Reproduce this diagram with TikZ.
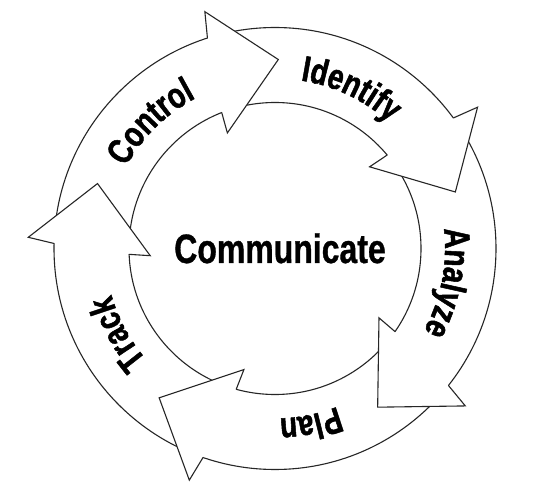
\documentclass[tikz,border=0pt]{standalone}
\usepackage{fontspec}
\newfontfamily\condbold{Liberation Sans Bold}[FakeStretch=0.78, FakeBold=0.8]
\newfontfamily\ringbold{Liberation Sans Bold}[FakeStretch=0.78, FakeBold=1.4]
\tikzset{
  ring/.style={draw=black!85, line width=1.1pt, line cap=round, line join=miter},
  headfill/.style={fill=white},
  letterbox/.style={anchor=base, inner sep=0pt, font=\ringfont}
}
\newcommand\ringfont{\ringbold\fontsize{36pt}{36pt}\selectfont}
\newlength\wordlen
\newlength\charlen
\newsavebox\measbox
% arrow head with tip at angle #1
\newcommand\headat[1]{%
  \fill[headfill] ({#1+18.8}:221pt) -- ({#1+17.5}:247pt) -- (#1:189pt) -- ({#1+23.4}:125pt) -- ({#1+22.4}:146pt) -- cycle;
  \draw[ring] ({#1+18.8}:221pt) -- ({#1+17.5}:247pt) -- (#1:189pt) -- ({#1+23.4}:125pt) -- ({#1+22.4}:146pt);
}
% measure a word before the picture: #1 centre angle, #2 word, #3 letters
\newcommand\prepword[3]{%
  \sbox\measbox{\ringfont #2}\global\wordlen=\wd\measbox
  \pgfmathsetmacro\curang{#1+0.5*\wordlen/170*57.29578}%
  \global\let\curang\curang
  \gdef\acc{}%
  \foreach \ch in {#3} {%
    \sbox\measbox{\ringfont\ch}\global\charlen=\wd\measbox
    \pgfmathsetmacro\midang{\curang-0.5*\charlen/170*57.29578}%
    \xdef\acc{\acc\ifx\acc\empty\else,\fi\midang/\ch}%
    \pgfmathsetmacro\nextang{\curang-\charlen/170*57.29578}%
    \global\let\curang\nextang
  }%
  \expandafter\global\expandafter\let\csname ang#2\endcsname\acc
}
\newcommand\ringwordaux[2]{%
  \foreach \a/\ch [count=\i] in #1 {%
    \node[letterbox, rotate=\a-90] (#2-\i) at (\a:170pt) {\ch};
  }%
}
\newcommand\ringword[1]{\expandafter\ringwordaux\csname ang#1\endcsname{#1}}
\begin{document}
\prepword{134.5}{Control}{C,o,n,t,r,o,l}%
\prepword{64.5}{Identify}{I,d,e,n,t,i,f,y}%
\prepword{-11.2}{Analyze}{A,n,a,l,y,z,e}%
\prepword{-78.5}{Plan}{P,l,a,n}%
\prepword{-151.3}{Track}{T,r,a,c,k}%
\begin{tikzpicture}
\path[use as bounding box, fill=white] (0,0) rectangle (538pt,498pt);
\begin{scope}[shift={(275pt,249.5pt)}]
  \draw[ring] (0,0) circle[radius=221pt];
  \draw[ring] (0,0) circle[radius=146pt];
  \headat{89}
  \headat{17.4}
  \headat{-57.1}
  \headat{-127.8}
  \headat{159.9}
  \ringword{Control}
  \ringword{Identify}
  \ringword{Analyze}
  \ringword{Plan}
  \ringword{Track}
  \node[font=\condbold\fontsize{41pt}{41pt}\selectfont, anchor=base, inner sep=0pt] (comm) at (5pt,-14.5pt) {Communicate};
\end{scope}
\end{tikzpicture}
\end{document}
